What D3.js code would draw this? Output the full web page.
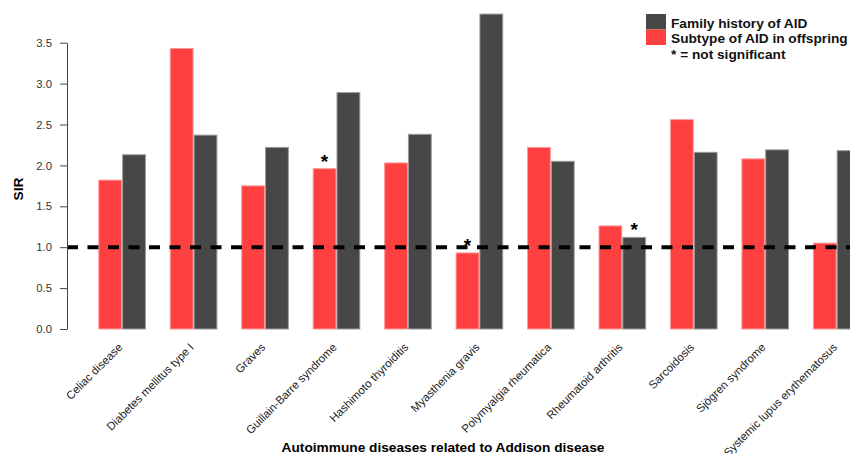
<!DOCTYPE html>
<html>
<head>
<meta charset="utf-8">
<script src="https://cdn.jsdelivr.net/npm/d3@7/dist/d3.min.js"></script>
<style>
  html, body { margin: 0; padding: 0; background: #fff; }
  svg { display: block; font-family: "Liberation Sans", Arial, sans-serif; }
</style>
</head>
<body>
<svg id="chart" width="850" height="454"></svg>
<script>
// Standardized incidence ratios of autoimmune diseases related to Addison disease
const categories = [
  "Celiac disease", "Diabetes mellitus type I", "Graves", "Guillain-Barre syndrome",
  "Hashimoto thyroiditis", "Myasthenia gravis", "Polymyalgia rheumatica",
  "Rheumatoid arthritis", "Sarcoidosis", "Sjögren syndrome", "Systemic lupus erythematosus"
];
const offspringSIR = [1.82, 3.43, 1.75, 1.96, 2.03, 0.93, 2.22, 1.26, 2.56, 2.08, 1.05];
const familySIR    = [2.13, 2.37, 2.22, 2.89, 2.38, 3.85, 2.05, 1.12, 2.16, 2.19, 2.18];
// series flagged as not significant, per category
const offspringNS = [false, false, false, true, false, true, false, false, false, false, false];
const familyNS    = [false, false, false, false, false, false, false, true, false, false, false];
const yTicks = [0, 0.5, 1, 1.5, 2, 2.5, 3, 3.5];
const referenceSIR = 1.0;

const seriesKeys = ["offspring", "family"];
const seriesColor = { offspring: "#ff4040", family: "#474747" };
const seriesStroke = { offspring: "#ff9a9a", family: "#9a9a9a" };

const rows = categories.map((c, i) => ({
  name: c,
  offspring: offspringSIR[i], family: familySIR[i],
  offspringNS: offspringNS[i], familyNS: familyNS[i]
}));

const svg = d3.select("#chart");

const y = d3.scaleLinear().domain([0, 3.5]).range([329, 42.7]);
const x0 = d3.scaleBand().domain(categories).range([98.3, 860.5])
  .paddingInner(1 / 3).paddingOuter(0);
const x1 = d3.scaleBand().domain(seriesKeys).range([0, x0.bandwidth()]).padding(0);

// bars
const groups = svg.append("g").selectAll("g").data(rows).join("g")
  .attr("transform", d => `translate(${x0(d.name)},0)`);

groups.selectAll("rect")
  .data(d => seriesKeys.map(k => ({ key: k, value: d[k] })))
  .join("rect")
  .attr("x", d => x1(d.key) + 0.5)
  .attr("y", d => y(d.value))
  .attr("width", x1.bandwidth() - 1)
  .attr("height", d => y(0) - y(d.value))
  .attr("fill", d => seriesColor[d.key])
  .attr("stroke", d => seriesStroke[d.key])
  .attr("stroke-width", 1);

// not-significant markers
groups.selectAll("text.ns")
  .data(d => seriesKeys.filter(k => d[k + "NS"]).map(k => ({ key: k, value: d[k] })))
  .join("text")
  .attr("class", "ns")
  .attr("x", d => x1(d.key) + x1.bandwidth() / 2)
  .attr("y", d => y(d.value) - 1)
  .attr("text-anchor", "middle")
  .attr("font-size", 19)
  .attr("font-weight", "bold")
  .attr("fill", "#000")
  .text("*");

// reference line at SIR = 1
svg.append("line")
  .attr("x1", 67).attr("x2", 850)
  .attr("y1", y(referenceSIR)).attr("y2", y(referenceSIR))
  .attr("stroke", "#000")
  .attr("stroke-width", 4)
  .attr("stroke-dasharray", "11,9.5");

// y axis
const yAxis = svg.append("g")
  .attr("transform", "translate(67,0)")
  .call(d3.axisLeft(y).tickValues(yTicks).tickFormat(d3.format(".1f"))
    .tickSize(7).tickSizeOuter(0).tickPadding(8));
yAxis.select(".domain").attr("stroke", "#444");
yAxis.selectAll(".tick line").attr("stroke", "#444");
yAxis.selectAll(".tick text")
  .attr("font-size", 11.3)
  .attr("fill", "#333")
  .attr("font-family", "'Liberation Sans', Arial, sans-serif");

// category labels
svg.append("g").selectAll("text").data(categories).join("text")
  .attr("transform", d => `translate(${x0(d) + x0.bandwidth() / 2 + 1},348) rotate(-45)`)
  .attr("text-anchor", "end")
  .attr("font-size", 11.4)
  .attr("fill", "#222")
  .text(d => d);

// axis titles
svg.append("text")
  .attr("x", 443).attr("y", 452)
  .attr("text-anchor", "middle")
  .attr("font-size", 13.7).attr("font-weight", "bold")
  .text("Autoimmune diseases related to Addison disease");

svg.append("text")
  .attr("transform", "translate(23,189) rotate(-90)")
  .attr("text-anchor", "middle")
  .attr("font-size", 13.7).attr("font-weight", "bold")
  .text("SIR");

// legend
const legendItems = [
  { label: "Family history of AID", color: seriesColor.family },
  { label: "Subtype of AID in offspring", color: seriesColor.offspring },
  { label: "* = not significant", color: null }
];
const legend = svg.append("g").attr("transform", "translate(646,14)");
legend.selectAll("rect").data(legendItems.filter(d => d.color)).join("rect")
  .attr("x", 0).attr("y", (d, i) => i * 15.5)
  .attr("width", 20).attr("height", 15.5)
  .attr("fill", d => d.color);
legend.selectAll("text").data(legendItems).join("text")
  .attr("x", 25).attr("y", (d, i) => 13.5 + i * 15.5)
  .attr("font-size", 13.7).attr("font-weight", "bold")
  .attr("fill", "#111")
  .text(d => d.label);
</script>
</body>
</html>
